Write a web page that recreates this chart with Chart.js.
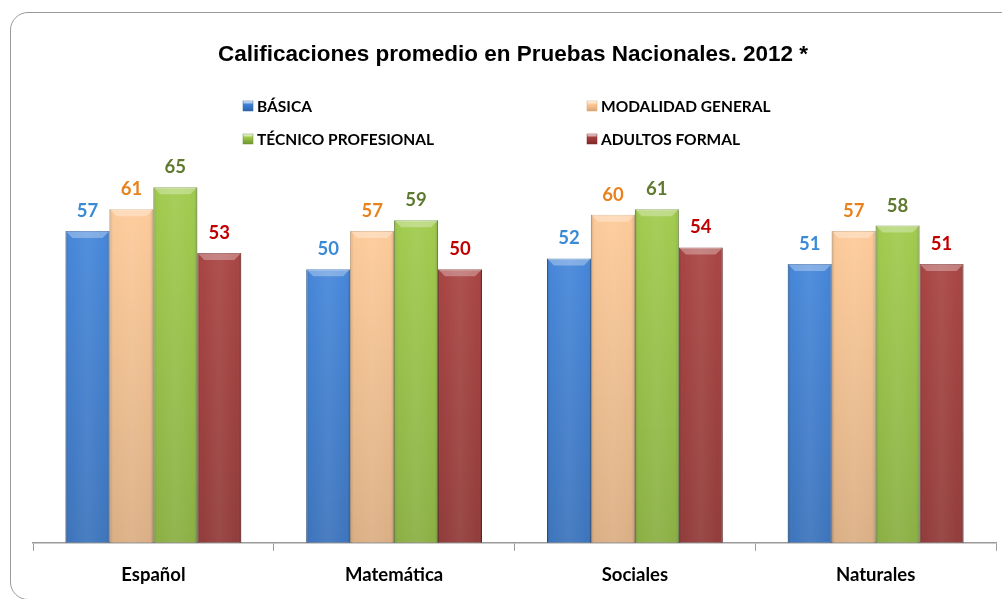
<!DOCTYPE html>
<html>
<head>
<meta charset="utf-8">
<script src="https://cdn.jsdelivr.net/npm/chart.js@4/dist/chart.umd.min.js"></script>
<style>
  body { margin: 0; background: #fff; overflow: hidden; }
  #wrap { position: relative; width: 1002px; height: 599px; overflow: hidden; }
  #frame { position: absolute; left: 10px; top: 12px; width: 1100px; height: 586px;
           border: 1.5px solid #9a9a9a; border-radius: 18px; }
  canvas { position: absolute; left: 0; top: 0; }
</style>
</head>
<body>
<div id="wrap">
  <div id="frame"></div>
  <canvas id="myChart" width="1002" height="599"></canvas>
</div>
<script>
"use strict";

// Datos del gráfico
const chartTitle = 'Calificaciones promedio en Pruebas Nacionales. 2012 *';
const subjects = ['Español', 'Matemática', 'Sociales', 'Naturales'];
const seriesNames = ['BÁSICA', 'MODALIDAD GENERAL', 'TÉCNICO PROFESIONAL', 'ADULTOS FORMAL'];
const basica = [57, 50, 52, 51];
const modalidadGeneral = [61, 57, 60, 57];
const tecnicoProfesional = [65, 59, 61, 58];
const adultosFormal = [53, 50, 54, 51];

// Colores
const barColors = ['#3f82d8', '#fdc895', '#9dc947', '#a53e3c'];
const borderColors = ['#2d63a8', '#d9a673', '#6d9530', '#7e2a28'];
const labelColors = ['#3a8ad6', '#e8821e', '#5f7a2e', '#c00000'];

const labelFont = 'bold 18.5px Lato, "Open Sans", sans-serif';

// Sombreado tipo 3D sobre cada barra
const shadePlugin = {
  id: 'shade',
  afterDatasetsDraw(chart) {
    const c = chart.ctx;
    chart.data.datasets.forEach((ds, i) => {
      const meta = chart.getDatasetMeta(i);
      meta.data.forEach(bar => {
        const left = bar.x - bar.width / 2;
        const right = bar.x + bar.width / 2;
        const h = bar.base - bar.y;
        c.save();
        // oscurecer hacia abajo
        let gv = c.createLinearGradient(0, bar.y, 0, bar.base);
        gv.addColorStop(0, 'rgba(0,0,0,0)');
        gv.addColorStop(1, 'rgba(0,0,0,0.14)');
        c.fillStyle = gv;
        c.fillRect(left, bar.y, bar.width, h);
        // bordes laterales
        let g = c.createLinearGradient(left, 0, right, 0);
        g.addColorStop(0, 'rgba(0,0,0,0.16)');
        g.addColorStop(0.1, 'rgba(255,255,255,0.04)');
        g.addColorStop(0.5, 'rgba(255,255,255,0.1)');
        g.addColorStop(0.9, 'rgba(255,255,255,0.04)');
        g.addColorStop(1, 'rgba(0,0,0,0.18)');
        c.fillStyle = g;
        c.fillRect(left, bar.y, bar.width, h);
        // bisel superior
        c.fillStyle = 'rgba(255,255,255,0.3)';
        c.beginPath();
        c.moveTo(left, bar.y);
        c.lineTo(right, bar.y);
        c.lineTo(right - 7, bar.y + 7);
        c.lineTo(left + 7, bar.y + 7);
        c.closePath();
        c.fill();
        c.restore();
      });
    });
  }
};

// Etiquetas de valores encima de las barras
const valueLabels = {
  id: 'valueLabels',
  afterDatasetsDraw(chart) {
    const c = chart.ctx;
    c.save();
    c.font = labelFont;
    c.textAlign = 'center';
    c.textBaseline = 'middle';
    chart.data.datasets.forEach((ds, i) => {
      const meta = chart.getDatasetMeta(i);
      c.fillStyle = labelColors[i];
      meta.data.forEach((bar, j) => {
        c.fillText(ds.data[j], bar.x, bar.y - 20);
      });
    });
    c.restore();
  }
};

// Título y leyenda en dos columnas
const header = {
  id: 'header',
  afterDraw(chart) {
    const c = chart.ctx;
    c.save();
    c.fillStyle = '#000';
    c.font = 'bold 22.5px Arial, "Liberation Sans", sans-serif';
    c.textAlign = 'center';
    c.textBaseline = 'middle';
    c.fillText(chartTitle, 513, 55);

    const cols = [243, 587];
    const rows = [106, 139];
    c.font = 'bold 15.5px Lato, "Open Sans", sans-serif';
    c.textAlign = 'left';
    chart.data.datasets.forEach((ds, i) => {
      const x = cols[i % 2];
      const y = rows[Math.floor(i / 2)];
      const g = c.createLinearGradient(x, y - 5, x, y + 5);
      g.addColorStop(0, '#ffffff');
      g.addColorStop(0.35, barColors[i]);
      g.addColorStop(1, borderColors[i]);
      c.fillStyle = g;
      c.fillRect(x, y - 5, 10, 10);
      c.strokeStyle = borderColors[i];
      c.lineWidth = 0.5;
      c.strokeRect(x, y - 5, 10, 10);
      c.fillStyle = '#000';
      c.fillText(ds.label, x + 14, y + 1);
    });
    c.restore();
  }
};

const seriesData = [basica, modalidadGeneral, tecnicoProfesional, adultosFormal];

new Chart(document.getElementById('myChart'), {
  type: 'bar',
  data: {
    labels: subjects,
    datasets: seriesNames.map((name, i) => ({
      label: name,
      data: seriesData[i],
      backgroundColor: barColors[i],
      borderColor: borderColors[i],
      borderWidth: 1,
      categoryPercentage: 0.73,
      barPercentage: 1
    }))
  },
  options: {
    responsive: false,
    animation: false,
    layout: { padding: { top: 160, left: 33, right: 6, bottom: 0 } },
    plugins: {
      legend: { display: false },
      title: { display: false },
      tooltip: { enabled: false }
    },
    scales: {
      y: {
        display: false,
        min: 0,
        max: 70
      },
      x: {
        border: { color: '#9a9a9a', width: 1.5 },
        grid: {
          drawOnChartArea: false,
          color: '#9a9a9a',
          tickLength: 8,
          offset: true
        },
        ticks: {
          color: '#000',
          padding: 13,
          font: { family: 'Lato, "Open Sans", sans-serif', size: 18.5, weight: 'bold' }
        }
      }
    }
  },
  plugins: [shadePlugin, valueLabels, header]
});
</script>
</body>
</html>
